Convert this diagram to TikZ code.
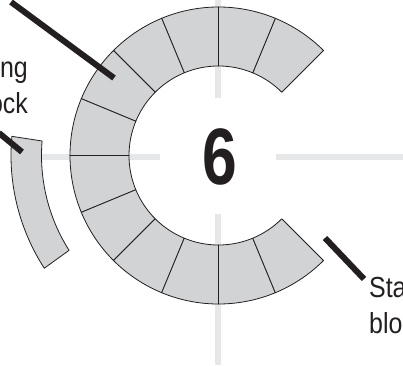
\documentclass[tikz,border=0pt]{standalone}
\usepackage{fontspec}
\setmainfont{Liberation Sans}
\definecolor{seg}{RGB}{209,211,212}
\definecolor{guide}{RGB}{230,231,232}
\definecolor{ink}{RGB}{35,31,32}
\tikzset{
  guideline/.style={guide,line width=6pt},
  segment/.style={fill=seg,draw=ink,line width=0.8pt,line join=round},
  leader/.style={ink,line width=6pt},
  label/.style={text=ink,font=\fontsize{29}{36}\selectfont,inner sep=0pt,xscale=0.86}
}
\begin{document}
\begin{tikzpicture}[x=1pt,y=1pt]
\useasboundingbox (0,0) rectangle (403,365);
\clip (0,0) rectangle (403,365);
\coordinate (c) at (218.5,209.5);
% guides
\draw[guideline] (218,365) -- (218,267);
\draw[guideline] (218,151) -- (218,0);
\draw[guideline] (40,208) -- (160,208);
\draw[guideline] (276,208) -- (403,208);
% ring
\foreach \a in {45,67.5,...,292.5}{
  \pgfmathsetmacro{\b}{\a+22.5}
  \draw[segment] ([shift={(\a:148.5)}]c) arc[start angle=\a,end angle=\b,radius=148.5]
    -- ([shift={(\b:89.5)}]c) arc[start angle=\b,end angle=\a,radius=89.5] -- cycle;
}
% detached block
\draw[segment] ([shift={(174.7:207.5)}]c) arc[start angle=174.7,end angle=212.9,radius=207.5]
  -- ([shift={(212.4:177)}]c) arc[start angle=212.4,end angle=175.3,radius=177] -- cycle;
% labels
\node[label,anchor=base east,align=right] (longlabel) at (28,252) {Long\\block};
\node[label,anchor=base west,align=left] (startlabel) at (369,32) {Start\\block};
% number
\node[text=ink,inner sep=0pt,xscale=0.78] (six) at (219.5,208) {\fontsize{80}{80}\selectfont\bfseries 6};
% leaders
\coordinate (a1) at (11,363);
\coordinate (a2) at (114,287);
\coordinate (b1) at (-1,232);
\coordinate (b2) at (22,213);
\coordinate (d1) at (325,127);
\coordinate (d2) at (364,86);
\draw[leader] (a1) -- (a2);
\draw[leader] (b1) -- (b2);
\draw[leader] (d1) -- (d2);
\end{tikzpicture}
\end{document}
